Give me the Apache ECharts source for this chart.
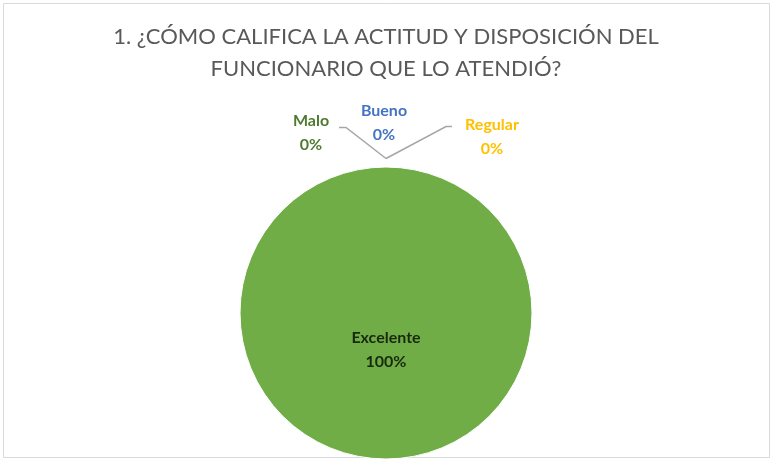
<!DOCTYPE html>
<html>
<head>
<meta charset="utf-8">
<script src="https://cdn.jsdelivr.net/npm/echarts@6/dist/echarts.min.js"></script>
<style>
  html, body { margin: 0; padding: 0; background: #fff; }
  #chart { width: 772px; height: 460px; }
</style>
</head>
<body>
<div id="chart"></div>
<script>
// Survey answers: attitude and willingness of the attending official
const titleText = '1. ¿CÓMO CALIFICA LA ACTITUD Y DISPOSICIÓN DEL\nFUNCIONARIO QUE LO ATENDIÓ?';
const categories = ['Malo', 'Bueno', 'Regular', 'Excelente'];
const values = [0, 0, 0, 100];
const colors = ['#548235', '#4472C4', '#FFC000', '#70AD47'];
const labelColors = ['#4E7A30', '#4472C4', '#FFC000', '#18290E'];

const chart = echarts.init(document.getElementById('chart'), null, { renderer: 'canvas' });

const data = categories.map((name, i) => ({
  name: name,
  value: values[i],
  itemStyle: { color: colors[i] },
  label: { color: labelColors[i] },
  labelLine: { show: name !== 'Bueno' && name !== 'Excelente' }
}));

chart.setOption({
  backgroundColor: '#fff',
  animation: false,
  title: {
    text: titleText,
    left: 'center',
    top: 16,
    textStyle: {
      fontFamily: 'Lato',
      fontSize: 22,
      fontWeight: 'normal',
      color: '#595959',
      lineHeight: 32
    }
  },
  graphic: [{
    type: 'rect',
    shape: { x: 3.5, y: 3.5, width: 766, height: 454 },
    style: { fill: 'none', stroke: '#D9D9D9', lineWidth: 1 },
    silent: true
  }],
  series: [{
    type: 'pie',
    center: [386, 313],
    radius: 146,
    startAngle: 90,
    clockwise: true,
    avoidLabelOverlap: false,
    minShowLabelAngle: 0,
    data: data,
    itemStyle: { borderColor: '#fff', borderWidth: 1 },
    label: {
      show: true,
      position: 'outside',
      formatter: '{b}\n{d}%',
      fontFamily: 'Lato',
      fontSize: 16,
      fontWeight: 'bold',
      lineHeight: 24
    },
    labelLine: {
      show: true,
      lineStyle: { color: '#A6A6A6', width: 1.5 }
    },
    labelLayout: function (p) {
      const name = categories[p.dataIndex];
      const r = p.rect;
      const cx = r.x + r.width / 2;
      const top = r.y;
      if (name === 'Excelente') {
        return { x: cx, y: r.y + r.height * 0.625, align: 'center', verticalAlign: 'middle' };
      }
      const v = top - 8;
      if (name === 'Malo') {
        return {
          x: cx - 75, y: top - 34, align: 'center', verticalAlign: 'middle',
          labelLinePoints: [[cx, v], [cx - 40, top - 39], [cx - 47, top - 39]]
        };
      }
      if (name === 'Regular') {
        return {
          x: cx + 106, y: top - 30, align: 'center', verticalAlign: 'middle',
          labelLinePoints: [[cx, v], [cx + 60, top - 40], [cx + 66, top - 40]]
        };
      }
      return { x: cx - 2, y: top - 44, align: 'center', verticalAlign: 'middle' };
    }
  }]
});
</script>
</body>
</html>
